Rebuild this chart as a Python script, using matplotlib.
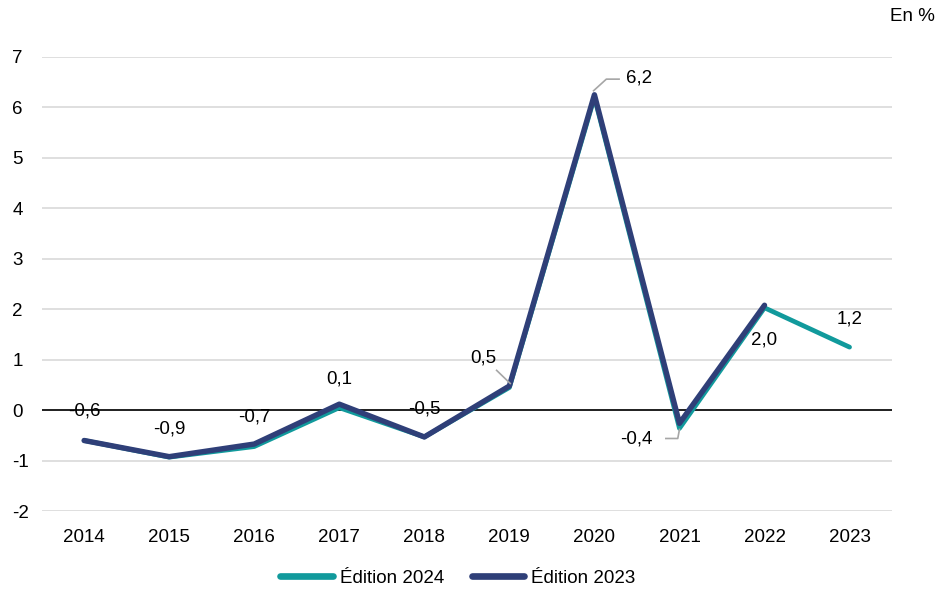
import matplotlib
matplotlib.use("Agg")
import matplotlib.pyplot as plt

years = ["2014", "2015", "2016", "2017", "2018", "2019", "2020", "2021", "2022", "2023"]
ed2024 = [-0.6, -0.93, -0.72, 0.05, -0.53, 0.45, 6.2, -0.36, 2.03, 1.25]
ed2023 = [-0.6, -0.92, -0.67, 0.12, -0.53, 0.48, 6.25, -0.26, 2.08]
labels = ["-0,6", "-0,9", "-0,7", "0,1", "-0,5", "0,5", "6,2", "-0,4", "2,0", "1,2"]
yticks = [-2, -1, 0, 1, 2, 3, 4, 5, 6, 7]

plt.rcParams['font.family'] = ['Liberation Sans', 'DejaVu Sans']

fig = plt.figure(figsize=(9.46, 5.93), dpi=100)
ax = fig.add_axes([0.044, 0.138, 0.899, 0.766])

x = list(range(len(years)))
teal = "#119a9c"
navy = "#2f3f78"
fs = 13.5

ax.plot(x, ed2024, color=teal, lw=3.4, solid_capstyle='round', solid_joinstyle='round', label="Édition 2024", zorder=3)
ax.plot(x[:len(ed2023)], ed2023, color=navy, lw=3.9, solid_capstyle='round', solid_joinstyle='round', label="Édition 2023", zorder=4)

ax.set_xlim(-0.5, len(years) - 0.5)
ax.set_ylim(-2, 7)
ax.set_yticks(yticks)
ax.set_yticklabels([str(v) for v in yticks])
ax.set_xticks(x)
ax.set_xticklabels(years)
ax.tick_params(axis='both', length=0, labelsize=fs, colors='black')
ax.tick_params(axis='x', pad=13)
for t in ax.get_yticklabels():
    t.set_horizontalalignment('left')
ax.yaxis.set_tick_params(pad=21)

ax.grid(axis='y', color='#d9d9d9', lw=1.2)
ax.set_axisbelow(True)
ax.axhline(0, color='black', lw=1.2, zorder=2)
for s in ax.spines.values():
    s.set_visible(False)

offs = {0: (0, 21.5), 1: (0, 20.5), 2: (0, 21.5), 3: (0, 21), 4: (0, 20), 8: (0, -23.5), 9: (0, 20.5)}
for i, (lab, v) in enumerate(zip(labels, ed2024)):
    if i in offs:
        ax.annotate(lab, (i, v), xytext=offs[i], textcoords='offset points',
                    ha='center', va='center', fontsize=fs, zorder=5)

gray = '#a6a6a6'
ax.annotate("0,5", (5, ed2024[5]), xytext=(-19, 21.5), textcoords='offset points',
            ha='center', va='center', fontsize=fs, zorder=5)
ax.plot([4.85, 5.01], [0.79, 0.53], color=gray, lw=1.2, zorder=5)
ax.annotate("6,2", (6, ed2024[6]), xytext=(32, 14), textcoords='offset points',
            ha='center', va='center', fontsize=fs, zorder=5)
ax.plot([5.99, 6.14, 6.29], [6.33, 6.56, 6.56], color=gray, lw=1.2, zorder=5)
ax.annotate("-0,4", (7, ed2024[7]), xytext=(-31, -7.5), textcoords='offset points',
            ha='center', va='center', fontsize=fs, zorder=5)
ax.plot([6.84, 6.98, 7.0], [-0.56, -0.56, -0.38], color=gray, lw=1.2, zorder=5)

fig.text(0.988, 0.972, "En %", ha='right', va='center', fontsize=fs)

leg = fig.legend(loc='center', bbox_to_anchor=(0.484, 0.025), ncol=2, frameon=False,
                 fontsize=fs, handlelength=2.8, handletextpad=0.35, columnspacing=1.5)
for h in leg.get_lines():
    h.set_linewidth(4.8)
    h.set_solid_capstyle('round')

fig.savefig("out.png", dpi=100)
